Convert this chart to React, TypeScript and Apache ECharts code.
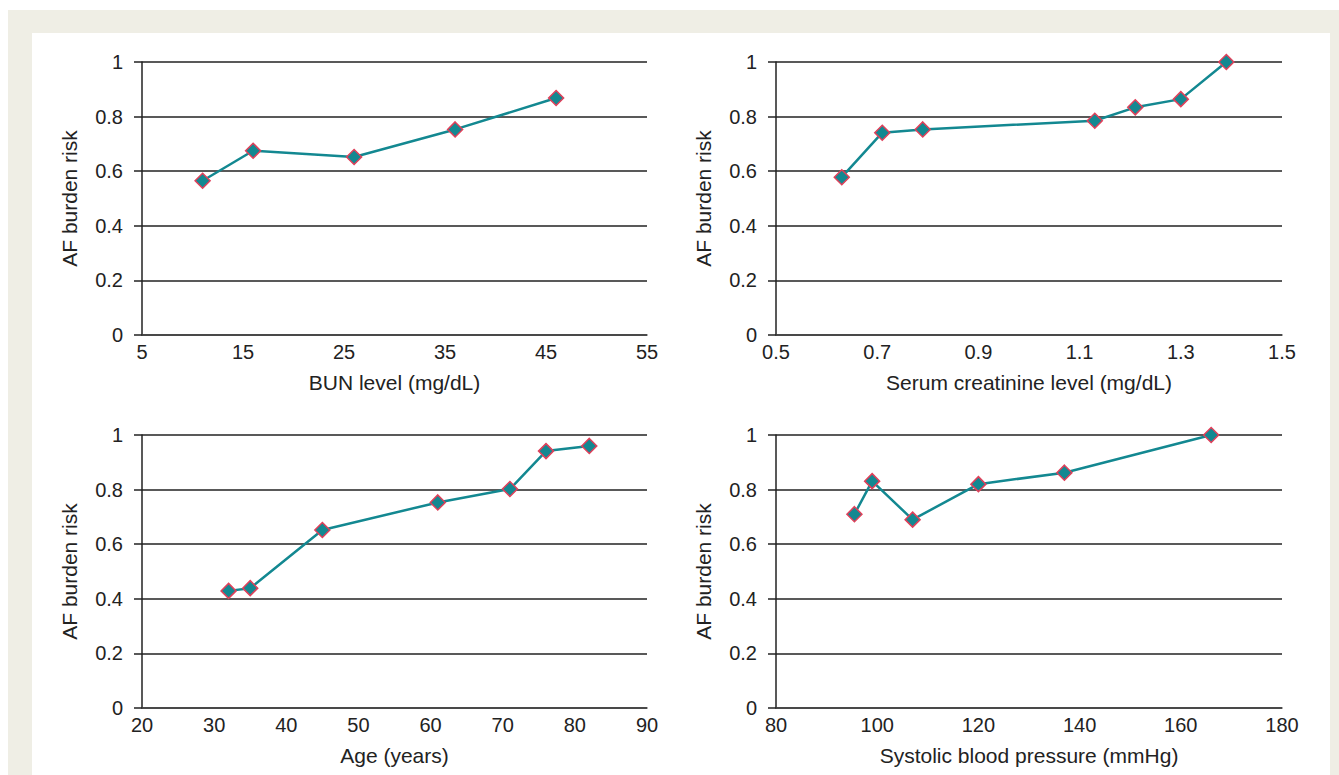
import React, { useEffect, useRef } from "react";
import * as echarts from "echarts";

const yTicks = [0, 0.2, 0.4, 0.6, 0.8, 1];

const bunX = [11, 16, 26, 36, 46];
const bunY = [0.565, 0.675, 0.652, 0.753, 0.868];

const creatX = [0.63, 0.71, 0.79, 1.13, 1.21, 1.3, 1.39];
const creatY = [0.578, 0.741, 0.753, 0.785, 0.834, 0.864, 1.0];

const ageX = [32, 35, 45, 61, 71, 76, 82];
const ageY = [0.429, 0.439, 0.652, 0.753, 0.802, 0.941, 0.96];

const sbpX = [95.5, 99, 107, 120, 137, 166];
const sbpY = [0.71, 0.831, 0.69, 0.82, 0.862, 1.0];

const panels = [
  { name: "BUN level (mg/dL)", min: 5, max: 55, interval: 10, xs: bunX, ys: bunY },
  { name: "Serum creatinine level (mg/dL)", min: 0.5, max: 1.5, interval: 0.2, xs: creatX, ys: creatY },
  { name: "Age (years)", min: 20, max: 90, interval: 10, xs: ageX, ys: ageY },
  { name: "Systolic blood pressure (mmHg)", min: 80, max: 180, interval: 20, xs: sbpX, ys: sbpY },
];

const gridPos = [
  { left: 142, top: 62, width: 505, height: 273 },
  { left: 776, top: 62, width: 506, height: 273 },
  { left: 142, top: 435, width: 505, height: 273 },
  { left: 776, top: 435, width: 506, height: 273 },
];

const FONT = "'Liberation Sans', Arial, Helvetica, sans-serif";
const TXT = "#222";
const LINE = "#138891";
const EDGE = "#E0405A";

export default function App() {
  const ref = useRef<HTMLDivElement>(null);
  useEffect(() => {
    if (!ref.current) return;
    const chart = echarts.init(ref.current, null, { renderer: "svg" });
    const option = {
      animation: false,
      textStyle: { fontFamily: FONT },
      grid: gridPos.map((g) => ({ ...g, containLabel: false })),
      xAxis: panels.map((p, i) => ({
        type: "value",
        gridIndex: i,
        min: p.min,
        max: p.max,
        interval: p.interval,
        name: p.name,
        nameLocation: "middle",
        nameGap: 37,
        nameTextStyle: { color: TXT, fontSize: 21, fontFamily: FONT },
        axisLine: { show: true, lineStyle: { color: "#444", width: 1.5 } },
        axisTick: { show: false },
        splitLine: { show: false },
        axisLabel: {
          color: TXT,
          fontSize: 20,
          fontFamily: FONT,
          margin: 7,
          formatter: (v: number) => String(Math.round(v * 10) / 10),
        },
      })),
      yAxis: panels.map((p, i) => ({
        type: "value",
        gridIndex: i,
        min: yTicks[0],
        max: yTicks[yTicks.length - 1],
        interval: 0.2,
        name: "AF burden risk",
        nameLocation: "middle",
        nameGap: 62,
        nameTextStyle: { color: TXT, fontSize: 21, fontFamily: FONT },
        axisLine: { show: true, lineStyle: { color: "#222", width: 1.5 } },
        axisTick: { show: true, length: 8, lineStyle: { color: "#222", width: 1.5 } },
        splitLine: { show: true, lineStyle: { color: "#222", width: 1.5 } },
        axisLabel: {
          color: TXT,
          fontSize: 20,
          fontFamily: FONT,
          margin: 19,
          formatter: (v: number) => String(Math.round(v * 10) / 10),
        },
      })),
      series: panels.map((p, i) => ({
        type: "line",
        xAxisIndex: i,
        yAxisIndex: i,
        data: p.xs.map((x, k) => [x, p.ys[k]]),
        symbol: "diamond",
        symbolSize: 15,
        lineStyle: { color: LINE, width: 2.5 },
        itemStyle: { color: LINE, borderColor: EDGE, borderWidth: 1.5 },
        z: 5,
      })),
    };
    chart.setOption(option);
    return () => chart.dispose();
  }, []);

  return (
    <div style={{ position: "absolute", left: 0, top: 0, width: 1339, height: 775, background: "#fff", overflow: "hidden" }}>
      <div style={{ position: "absolute", left: 8, top: 10, width: 1331, height: 765, background: "#EFEEE5" }} />
      <div style={{ position: "absolute", left: 32, top: 33, width: 1298, height: 742, background: "#fff" }} />
      <div ref={ref} style={{ position: "absolute", left: 0, top: 0, width: 1339, height: 775 }} />
    </div>
  );
}
